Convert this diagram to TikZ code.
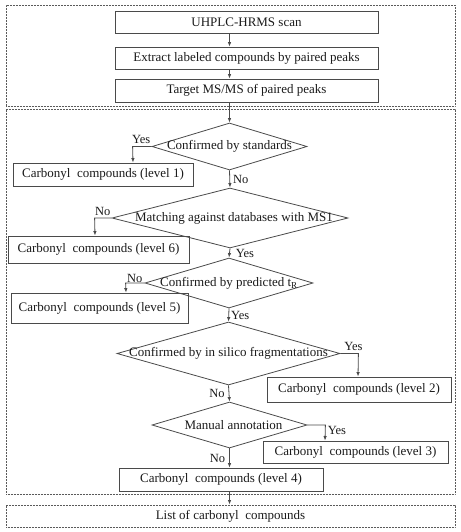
\documentclass[tikz,border=0pt]{standalone}
\usepackage{fontspec}
\setmainfont{Liberation Serif}
\usetikzlibrary{arrows.meta,calc,positioning,shapes.geometric}
\definecolor{linegray}{HTML}{4A4A4A}
\definecolor{dotgray}{HTML}{5A5A5A}
\definecolor{textdark}{HTML}{1A1A1A}
\tikzset{
  arr/.style={-{Latex[length=4.5pt,width=3.5pt]},line width=0.8pt,linegray},
  stepbox/.style={draw=linegray,line width=0.8pt,text=textdark,minimum width=263pt,minimum height=22pt,inner sep=0pt,font=\fontsize{13}{15}\selectfont},
  levelbox/.style={draw=linegray,line width=0.8pt,text=textdark,inner sep=0pt,font=\fontsize{13}{15}\selectfont},
  decision/.style={diamond,draw=linegray,line width=0.8pt,inner sep=0pt,aspect=3,label={[text=textdark,font=\fontsize{13}{15}\selectfont]center:#1}},
  framebox/.style={draw=dotgray,line width=0.9pt,dash pattern=on 0.6pt off 0.9pt,text=textdark,inner sep=0pt,font=\fontsize{13}{15}\selectfont},
  answer/.style={text=textdark,font=\fontsize{12.5}{14}\selectfont,inner sep=2pt}
}

\begin{document}
\begin{tikzpicture}[x=1pt,y=-1pt]
  \useasboundingbox (0,0) rectangle (460,532);
  \node[framebox,minimum width=449pt,minimum height=101pt] (prep) at (230.5,55.5) {};
  \node[framebox,minimum width=449pt,minimum height=385pt] (ident) at (230.5,301.5) {};
  \node[framebox,minimum width=449pt,minimum height=22pt] (list) at (230.5,516) {List of carbonyl~ compounds};

  \node[stepbox] (scan) at (246.5,22) {UHPLC-HRMS scan};
  \node[stepbox] (extract) at (246.5,58) {Extract labeled compounds by paired peaks};
  \node[stepbox,minimum height=23pt] (target) at (246.5,90.5) {Target MS/MS of paired peaks};

  \node[decision={Confirmed by standards},minimum width=155pt,minimum height=47pt] (std) at (229.5,146.5) {};
  \node[levelbox,minimum width=180pt,minimum height=23pt] (lvone) at (103,174.5) {Carbonyl~ compounds (level 1)};
  \node[decision={\hspace*{8pt}Matching against databases with MS1},minimum width=236pt,minimum height=60pt] (dbase) at (230,218) {};
  \node[levelbox,minimum width=181pt,minimum height=27pt] (lvsix) at (98.5,249.5) {Carbonyl~ compounds (level 6)};
  \node[decision={Confirmed by predicted t\textsubscript{R}},minimum width=168pt,minimum height=50pt] (rtime) at (229,283) {};
  \node[levelbox,minimum width=177pt,minimum height=30pt] (lvfive) at (99.5,308) {Carbonyl~ compounds (level 5)};
  \node[decision={Confirmed by in silico fragmentations},minimum width=223pt,minimum height=63pt] (silico) at (228.5,353.5) {};
  \node[levelbox,minimum width=184pt,minimum height=25pt] (lvtwo) at (359,389.5) {Carbonyl~ compounds (level 2)};
  \node[decision={\hspace*{8pt}Manual annotation},minimum width=155pt,minimum height=46pt] (manual) at (229.5,425) {};
  \node[levelbox,minimum width=185pt,minimum height=22pt] (lvthree) at (355.5,452) {Carbonyl~ compounds (level 3)};
  \node[levelbox,minimum width=204pt,minimum height=23pt] (lvfour) at (221,479.5) {Carbonyl~ compounds (level 4)};

  \draw[arr] (scan.south -| std.north) -- (extract.north -| std.north);
  \draw[arr] (extract.south -| std.north) -- (target.north -| std.north);
  \draw[arr] (target.south -| std.north) -- (std.north);
  \draw[arr] (std.west) -- ++(-19,0) node[answer,at end,above right,xshift=-3pt] {Yes} -- (lvone.north -| {(133,0)});
  \draw[arr] (std.south) -- node[answer,right,xshift=1pt] {No} (dbase.north);
  \draw[arr] (dbase.west) -- ++(-17,0) node[answer,at end,above right,xshift=-2pt] {No} -- (lvsix.north -| {(95,0)});
  \draw[arr] (dbase.south) -- node[answer,right,xshift=4pt] {Yes} (rtime.north);
  \draw[arr] (rtime.west) -- ++(-19,0) node[answer,at end,above right,inner sep=0pt,xshift=1pt] {No} -- (lvfive.north -| {(126,0)});
  \draw[arr] (rtime.south) -- node[answer,right] {Yes} (silico.north);
  \draw[arr] (silico.east) -- ++(18,0) node[answer,at end,above,xshift=-5pt] {Yes} -- (lvtwo.north -| {(358,0)});
  \draw[arr] (silico.south) -- node[answer,left,xshift=-2pt] {No} (manual.north);
  \draw[arr] (manual.east) -- ++(18,0) node[answer,at end,below right,yshift=1pt] {Yes} -- (lvthree.north -| {(325,0)});
  \draw[arr] (manual.south) -- node[answer,left,xshift=-2pt] {No} (lvfour.north -| manual.south);
  \draw[arr] (lvfour.south -| manual.south) -- (list.north -| manual.south);
\end{tikzpicture}
\end{document}
